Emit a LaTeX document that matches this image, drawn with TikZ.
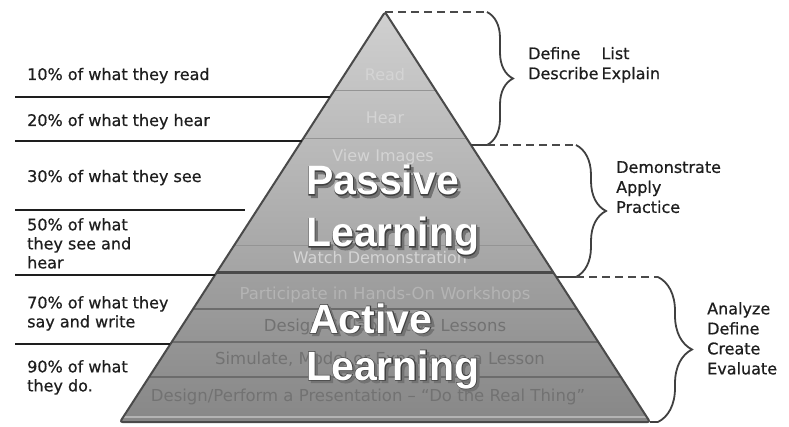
\documentclass[tikz,border=0pt]{standalone}
\usepackage{fontspec}
\setmainfont{DejaVu Sans}
\newfontfamily\labelfont{DejaVu Sans}[FakeBold=0.6]
\newfontfamily\bigfont{Liberation Sans}[UprightFont={* Bold}]
\newfontfamily\bigoutl{Liberation Sans}[UprightFont={* Bold},FakeBold=3]
\usetikzlibrary{decorations.pathreplacing,calc}
\definecolor{edgecol}{HTML}{4A4A4A}
\definecolor{ptop}{HTML}{D0D0D0}
\definecolor{pmid}{HTML}{BABABA}
\definecolor{pbot}{HTML}{A4A4A4}
\definecolor{atop}{HTML}{A0A0A0}
\definecolor{abot}{HTML}{878787}
\definecolor{bandline}{HTML}{6C6C6C}
\definecolor{faintlight}{HTML}{D4D4D4}
\definecolor{faintact}{HTML}{B4B4B4}
\definecolor{faintdark}{HTML}{727272}
\definecolor{inkcol}{HTML}{1E1E1E}
\definecolor{dashcol}{HTML}{4A4A4A}
\tikzset{
  lefttxt/.style={font=\labelfont\fontsize{16}{19}\selectfont, text=inkcol, inner sep=0pt, align=left},
  righttxt/.style={font=\labelfont\fontsize{16}{20}\selectfont, text=inkcol, inner sep=0pt, align=left},
  tabline/.style={draw=inkcol, line width=2pt},
  dashline/.style={draw=dashcol, line width=2.2pt, dash pattern=on 8pt off 5pt},
  bracestyle/.style={draw=inkcol!85, line width=1.8pt, decorate},
  linkline/.style={draw=inkcol!85, line width=1.8pt},
  faintp/.style={font=\fontsize{16}{19}\selectfont, text=faintlight, inner sep=0pt},
  fainta/.style={font=\fontsize{16.5}{19}\selectfont, inner sep=0pt},
  bigwhite/.style={font=\bigfont\fontsize{41}{48}\selectfont, text=white, inner sep=0pt, anchor=base west},
  bigoutline/.style={font=\bigoutl\fontsize{41}{48}\selectfont, text=black!75, inner sep=0pt, anchor=base west},
  bigshadow/.style={font=\bigoutl\fontsize{41}{48}\selectfont, text=black!55, inner sep=0pt, anchor=base west},
}
\begin{document}
\begin{tikzpicture}[x=1pt,y=-1pt]
\useasboundingbox (0,0) rectangle (789,427);
\fill[white] (0,0) rectangle (789,427);

% pyramid geometry
\coordinate (A) at (385,12);
\coordinate (BL) at (120,422);
\coordinate (BR) at (650,422);
\coordinate (PL) at (216.3,273);
\coordinate (PR) at (553.7,273);

% passive part
\shade[top color=ptop, middle color=pmid, bottom color=pbot] (A) -- (PR) -- (PL) -- cycle;
\draw[pbot!90!black, line width=0.8pt] (334.6,90) -- (435.4,90);
\draw[pbot!90!black, line width=0.8pt] (303.6,138) -- (466.4,138);
\draw[pbot!90!black, line width=0.8pt] (234.4,245) -- (535.6,245);

% active part
\shade[top color=atop, bottom color=abot] (PL) -- (PR) -- (BR) -- (BL) -- cycle;
\draw[bandline, line width=1.5pt] (193,309) -- (577,309);
\draw[bandline, line width=1.5pt] (171.7,342) -- (598.3,342);
\draw[bandline, line width=1.5pt] (149.1,377) -- (620.9,377);
\draw[atop!80!white, line width=2pt] (123.5,416.5) -- (646.5,416.5);
\draw[edgecol, line width=3pt] (PL) -- (PR);

% outline
\draw[edgecol, line width=2pt, line join=round, rounded corners=2.5pt] (A) -- (BR) -- (BL) -- cycle;

% faint layer labels
\node[faintp] (read) at (385,75) {Read};
\node[faintp] (hear) at (385,118) {Hear};
\node[faintp] (view) at (383,157) {View Images};
\node[faintp] (watch) at (380,258) {Watch Demonstration};
\node[fainta, text=faintact] (part) at (385,295) {Participate in Hands-On Workshops};
\node[fainta, text=faintdark] (collab) at (385,327) {Design Collaborative Lessons};
\node[fainta, text=faintdark] (sim) at (380,360) {Simulate, Model or Experience a Lesson};
\node[fainta, text=faintdark] (pres) at (368,397) {Design/Perform a Presentation – “Do the Real Thing”};

% big titles
\node[bigshadow] (pas1s) at (308.5,197.5) {Passive};
\node[bigoutline] (pas1o) at (306,195) {Passive};
\node[bigwhite] (pas1) at (306,195) {Passive};
\node[bigshadow] (pas2s) at (308.5,249.5) {Learning};
\node[bigoutline] (pas2o) at (306,247) {Learning};
\node[bigwhite] (pas2) at (306,247) {Learning};
\node[bigshadow] (act1s) at (311.5,335.5) {Active};
\node[bigoutline] (act1o) at (309,333) {Active};
\node[bigwhite] (act1) at (309,333) {Active};
\node[bigshadow] (act2s) at (308.5,382.5) {Learning};
\node[bigoutline] (act2o) at (306,380) {Learning};
\node[bigwhite] (act2) at (306,380) {Learning};

% left table
\coordinate (l1s) at (15,97);   \coordinate (l1e) at (330.1,97);
\coordinate (l2s) at (15,141);  \coordinate (l2e) at (301.6,141);
\coordinate (l3s) at (15,210);  \coordinate (l3e) at (245,210);
\coordinate (l4s) at (15,275);  \coordinate (l4e) at (215,275);
\coordinate (l5s) at (15,344);  \coordinate (l5e) at (170.4,344);
\draw[tabline] (l1s) -- (l1e);
\draw[tabline] (l2s) -- (l2e);
\draw[tabline] (l3s) -- (l3e);
\draw[tabline] (l4s) -- (l4e);
\draw[tabline] (l5s) -- (l5e);

\node[lefttxt, anchor=base west] (t10) at (27,80) {10\% of what they read};
\node[lefttxt, anchor=base west] (t20) at (27,126) {20\% of what they hear};
\node[lefttxt, anchor=base west] (t30) at (27,182) {30\% of what they see};
\node[lefttxt, anchor=north west] (t50) at (27,218) {50\% of what\\they see and\\hear};
\node[lefttxt, anchor=north west] (t70) at (27,296) {70\% of what they\\say and write};
\node[lefttxt, anchor=north west] (t90) at (27,360) {90\% of what\\they do.};

% right braces
\coordinate (b1t) at (487,12);
\coordinate (b1b) at (487,145);
\coordinate (e1) at (471,145);
\coordinate (b2t) at (576,145);
\coordinate (b2b) at (576,277);
\coordinate (e2) at (556.3,277);
\coordinate (b3t) at (658,277);
\coordinate (b3b) at (658,422);

\draw[dashline] (A) -- (b1t);
\draw[bracestyle, decoration={brace, amplitude=26pt}] (b1t) -- (b1b);
\draw[linkline] (e1) -- (b1b);
\draw[dashline] (b1b) -- (b2t);
\draw[bracestyle, decoration={brace, amplitude=30pt}] (b2t) -- (b2b);
\draw[linkline] (e2) -- (b2b);
\draw[dashline] (b2b) -- (b3t);
\draw[bracestyle, decoration={brace, amplitude=34pt}] (b3t) -- (b3b);
\draw[linkline] (BR) -- (b3b);

\node[righttxt, anchor=north west] (r1) at (528,45)
  {\begin{tabular}{@{}l@{\hspace{3pt}}l@{}}Define & List\\[0pt] Describe & Explain\end{tabular}};
\node[righttxt, anchor=north west] (r2) at (616,161) {Demonstrate\\Apply\\Practice};
\node[righttxt, anchor=north west] (r3) at (707,302) {Analyze\\Define\\Create\\Evaluate};
\end{tikzpicture}
\end{document}
